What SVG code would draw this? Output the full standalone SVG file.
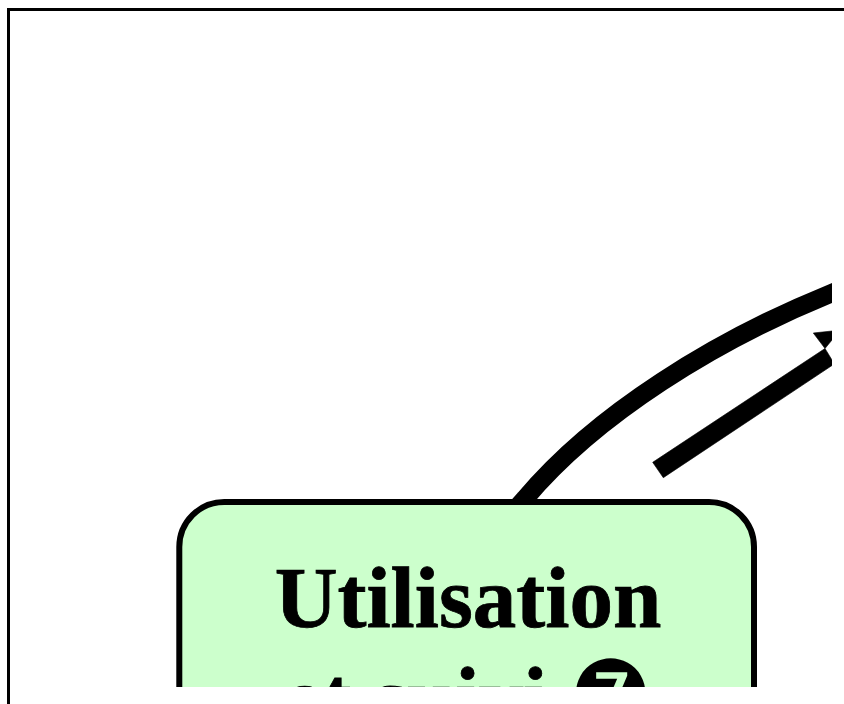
<svg xmlns="http://www.w3.org/2000/svg" width="844" height="704" viewBox="0 0 844 704">
  <style>
    .frame { fill: #ffffff; stroke: #000000; stroke-width: 3; }
    .edge { fill: none; stroke: #000000; stroke-width: 18.5; }
    .head { fill: #000000; stroke: #000000; stroke-width: 0.6; }
    .box { fill: #ccffcc; stroke: #000000; stroke-width: 6; }
    .label { font-family: "Liberation Serif", "DejaVu Sans", serif; font-size: 87px; font-weight: bold; fill: #000000; text-anchor: middle; text-rendering: geometricPrecision; stroke: #000000; stroke-width: 0.8; }
    .badge { font-family: "DejaVu Sans", sans-serif; font-size: 93px; font-weight: normal; stroke: none; }
  </style>
  <defs>
    <clipPath id="view"><rect x="0" y="0" width="832" height="687"/></clipPath>
  </defs>
  <rect class="frame" x="8.5" y="9.5" width="900" height="800"/>
  <g clip-path="url(#view)">
    <g id="connectors">
      <path class="edge" d="M516.7,508 L524.7,499 C596,414 716,340 832,293 L860,281.7"/>
      <polygon class="head" points="652.7,462.3 825,348.5 832,360 832,365.5 663.3,477.7"/>
      <polygon class="head" points="813.3,333 832,331 832,340 825,348.5"/>
    </g>
    <g id="node-utilisation">
      <rect class="box" x="179.3" y="502" width="574.7" height="300" rx="45" ry="45"/>
      <text class="label" x="468" y="627">Utilisation</text>
      <text class="label" x="468" y="727">et suivi <tspan class="badge">❼</tspan></text>
    </g>
  </g>
</svg>
